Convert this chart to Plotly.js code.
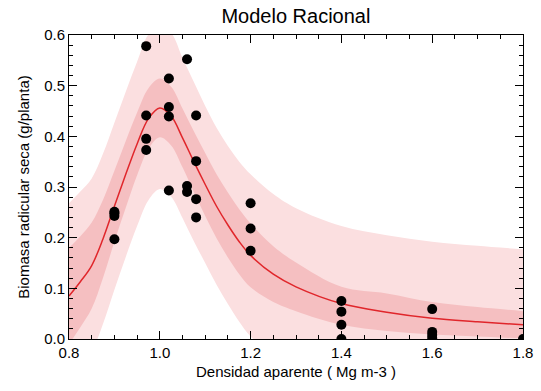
<!DOCTYPE html>
<html>
<head>
<meta charset="utf-8">
<script src="https://cdn.plot.ly/plotly-3.0.1.min.js"></script>
<style>html,body{margin:0;padding:0;background:#fff}#chart{width:541px;height:391px}</style>
</head>
<body>
<div id="chart"></div>
<script>
// observed data
const obsX = [0.9,0.9,0.9,0.9, 0.97,0.97,0.97,0.97, 1.02,1.02,1.02,1.02, 1.06,1.06,1.06, 1.08,1.08,1.08,1.08, 1.2,1.2,1.2, 1.4,1.4,1.4,1.4, 1.6,1.6,1.6,1.6, 1.8];
const obsY = [0.251,0.248,0.243,0.197, 0.578,0.441,0.395,0.373, 0.514,0.458,0.439,0.293, 0.552,0.302,0.290, 0.441,0.351,0.276,0.240, 0.268,0.218,0.174, 0.075,0.054,0.028,0.0, 0.059,0.014,0.008,0.002, 0.0];

// fitted curve and bands
const gridX = [0.8,0.825,0.85,0.875,0.9,0.925,0.95,0.975,1.0,1.025,1.05,1.075,1.1,1.125,1.15,1.175,1.2,1.25,1.3,1.4,1.5,1.6,1.7,1.8];
const fitY  = [0.085,0.113,0.145,0.198,0.262,0.325,0.385,0.435,0.456,0.440,0.397,0.350,0.305,0.262,0.225,0.192,0.165,0.128,0.103,0.070,0.053,0.041,0.034,0.028];
const ciLow = [-0.010,0.023,0.060,0.121,0.192,0.259,0.323,0.375,0.398,0.382,0.339,0.290,0.243,0.199,0.161,0.128,0.102,0.073,0.055,0.028,0.016,0.009,0.005,0.001];
const ciHigh= [0.180,0.203,0.230,0.275,0.332,0.391,0.447,0.495,0.514,0.498,0.455,0.410,0.367,0.325,0.289,0.256,0.228,0.183,0.151,0.103,0.090,0.073,0.063,0.055];
const piLow = [-0.098,-0.065,-0.027,0.030,0.097,0.162,0.223,0.274,0.296,0.281,0.239,0.193,0.150,0.107,0.069,0.034,0.005,-0.030,-0.052,-0.083,-0.099,-0.110,-0.116,-0.121];
const piHigh= [0.268,0.291,0.317,0.366,0.427,0.488,0.547,0.601,0.618,0.604,0.555,0.507,0.460,0.417,0.381,0.350,0.325,0.286,0.258,0.223,0.205,0.192,0.184,0.177];

const lightPink = '#fbdfe0';
const darkPink = '#f5bfc1';

const traces = [
  {x: gridX, y: piLow, mode:'lines', line:{width:0, shape:'spline'}, hoverinfo:'skip', showlegend:false},
  {x: gridX, y: piHigh, mode:'lines', line:{width:0, shape:'spline'}, fill:'tonexty', fillcolor:lightPink, hoverinfo:'skip', showlegend:false},
  {x: gridX, y: ciLow, mode:'lines', line:{width:0, shape:'spline'}, hoverinfo:'skip', showlegend:false},
  {x: gridX, y: ciHigh, mode:'lines', line:{width:0, shape:'spline'}, fill:'tonexty', fillcolor:darkPink, hoverinfo:'skip', showlegend:false},
  {x: gridX, y: fitY, mode:'lines', line:{color:'#e0262b', width:1.5, shape:'spline'}, showlegend:false},
  {x: obsX, y: obsY, mode:'markers', marker:{color:'#000', size:10}, showlegend:false}
];

const axisCommon = {
  showgrid:false, zeroline:false, showline:true, linecolor:'#000', linewidth:1,
  mirror:'allticks', ticks:'inside', ticklen:8, tickcolor:'#000', tickwidth:1,
  tickfont:{family:'Liberation Sans, Arial, sans-serif', size:15, color:'#000'}
};

const layout = {
  width:541, height:391,
  margin:{l:69, r:18, t:35, b:52},
  paper_bgcolor:'#fff', plot_bgcolor:'#fff',
  title:{text:'Modelo Racional', x:0.547, xanchor:'center', y:0.96, yanchor:'middle',
         font:{family:'Liberation Sans, Arial, sans-serif', size:20, color:'#000'}},
  xaxis: Object.assign({}, axisCommon, {
    range:[0.8,1.8], dtick:0.2, tick0:0.8, tickformat:'.1f',
    minor:{dtick:0.05, ticks:'inside', ticklen:4, tickcolor:'#000'},
    title:{text:'Densidad aparente ( Mg m-3 )', standoff:6,
           font:{family:'Liberation Sans, Arial, sans-serif', size:15, color:'#000'}}
  }),
  yaxis: Object.assign({}, axisCommon, {
    range:[0,0.6], dtick:0.1, tick0:0, tickformat:'.1f',
    minor:{dtick:0.02, ticks:'inside', ticklen:4, tickcolor:'#000'},
    title:{text:'Biomasa radicular seca (g/planta)', standoff:10,
           font:{family:'Liberation Sans, Arial, sans-serif', size:15, color:'#000'}}
  })
};

Plotly.newPlot('chart', traces, layout, {staticPlot:true, displayModeBar:false});
</script>
</body>
</html>
